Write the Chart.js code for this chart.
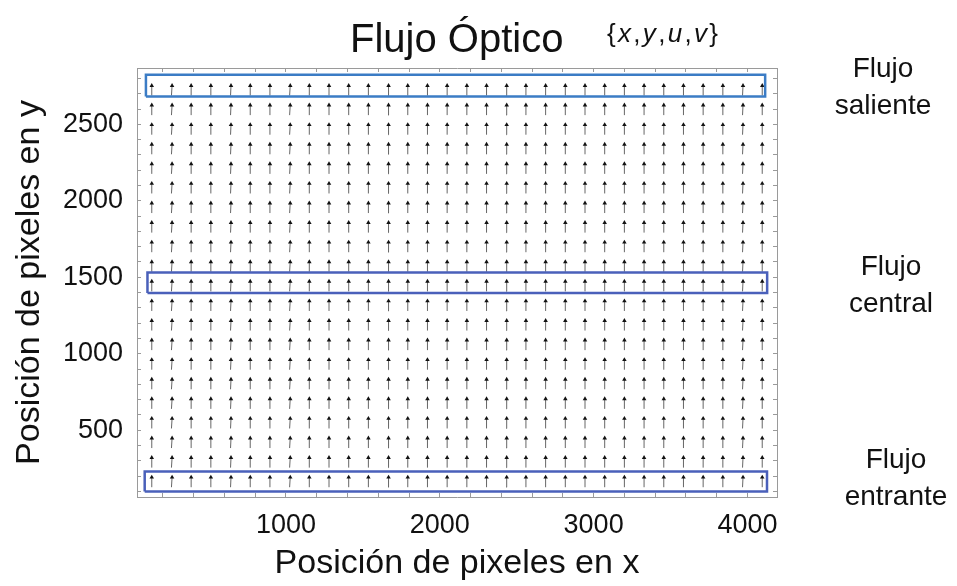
<!DOCTYPE html>
<html>
<head>
<meta charset="utf-8">
<script src="https://cdn.jsdelivr.net/npm/chart.js@4.4.1/dist/chart.umd.min.js"></script>
<style>
  body { margin: 0; background: #fff; }
  #wrap { position: relative; width: 957px; height: 586px; font-family: "Liberation Sans", Arial, sans-serif; color: #111; }
  #chart { position: absolute; left: 0; top: 0; }
  .lbl { position: absolute; white-space: nowrap; }
  .side { width: 160px; text-align: center; font-size: 28px; line-height: 37px; }
</style>
</head>
<body>
<div id="wrap">
  <canvas id="chart" width="957" height="586"></canvas>
  <div class="lbl" style="left:350px; top:14px; font-size:40px; line-height:48px;">Flujo Óptico</div>
  <div class="lbl" style="left:607px; top:18px; font-size:26px; line-height:30px; letter-spacing:2.3px;">{<i>x</i>,<i>y</i>,<i>u</i>,<i>v</i>}</div>
  <div class="lbl side" style="left:803px; top:49px;">Flujo<br>saliente</div>
  <div class="lbl side" style="left:811px; top:247px;">Flujo<br>central</div>
  <div class="lbl side" style="left:816px; top:440px;">Flujo<br>entrante</div>
</div>
<script>
// grid of the optical flow field (pixel positions)
const xs = [128, 256, 384, 512, 640, 768, 896, 1024, 1152, 1280, 1408, 1536, 1664, 1792, 1920, 2048,
            2176, 2304, 2432, 2560, 2688, 2816, 2944, 3072, 3200, 3328, 3456, 3584, 3712, 3840, 3968, 4096];
const ys = [128, 256, 384, 512, 640, 768, 896, 1024, 1152, 1280, 1408, 1536, 1664, 1792, 1920, 2048,
            2176, 2304, 2432, 2560, 2688];
// horizontal component per column, vertical component per row (scaled)
const uCols = [0, 4, 0, 0, 3, 0, 0, 4, 0, 0, 0, 0, 3, 0, 0, 0,
               0, 0, 3, 0, 0, 0, 0, 0, 0, 0, 0, 0, 0, 0, 3, 0];
const vRows = [65, 65, 65, 65, 65, 65, 65, 65, 65, 65, 65, 65, 65, 65, 65, 65,
               65, 65, 65, 65, 65];

// highlighted rows: [xmin, xmax, ymin, ymax]
const boxSaliente = [90, 4115, 2682, 2824];
const boxCentral = [100, 4128, 1397, 1531];
const boxEntrante = [82, 4127, 100, 231];

const xMin = 32, xMax = 4192;
const yMin = 64, yMax = 2868;
const xTicks = [];
for (let t = 200; t <= 4000; t += 200) xTicks.push(t);
const yTicks = [];
for (let t = 100; t <= 2800; t += 100) yTicks.push(t);

const shafts = [];
const heads = [];
ys.forEach((y, j) => {
    xs.forEach((x, i) => {
        shafts.push({x: x, y: y});
        shafts.push({x: x + uCols[i], y: y + vRows[j]});
        shafts.push({x: x, y: null});
        heads.push({x: x + uCols[i], y: y + vRows[j]});
    });
});

function rect(b) {
    return [
        {x: b[0], y: b[2]}, {x: b[1], y: b[2]}, {x: b[1], y: b[3]},
        {x: b[0], y: b[3]}, {x: b[0], y: b[2]}
    ];
}

Chart.defaults.font.family = "'Liberation Sans', Arial, sans-serif";
Chart.defaults.color = "#111";

const frameGrid = {
    drawOnChartArea: false,
    drawTicks: true,
    tickLength: -4,
    color: "#9a9a9a",
    lineWidth: 1
};
const frameBorder = { display: true, color: "#9a9a9a", width: 1 };

new Chart(document.getElementById('chart'), {
    type: "scatter",
    data: {
        datasets: [
            { data: rect(boxSaliente), showLine: true, borderColor: "#3b7cc5", borderWidth: 2.5, pointRadius: 0, fill: false },
            { data: rect(boxCentral), showLine: true, borderColor: "#4a60ba", borderWidth: 2.5, pointRadius: 0, fill: false },
            { data: rect(boxEntrante), showLine: true, borderColor: "#4a60ba", borderWidth: 2.5, pointRadius: 0, fill: false },
            { data: heads, showLine: false, pointStyle: "triangle", pointRadius: 2.6, backgroundColor: "#111", borderColor: "#111", borderWidth: 0 },
            { data: shafts, showLine: true, spanGaps: false, borderColor: "#555", borderWidth: 0.9, pointRadius: 0 }
        ]
    },
    options: {
        responsive: false,
        animation: false,
        devicePixelRatio: 1,
        layout: { padding: { left: 0, right: 180, top: 68, bottom: 0 } },
        plugins: {
            legend: { display: false },
            tooltip: { enabled: false }
        },
        scales: {
            x: {
                type: "linear", position: "bottom", min: xMin, max: xMax,
                grid: frameGrid, border: frameBorder,
                afterBuildTicks: s => { s.ticks = xTicks.map(v => ({value: v})); },
                afterFit: s => { s.height = 89; },
                ticks: {
                    autoSkip: false, maxRotation: 0, minRotation: 0, padding: 16,
                    font: { size: 27 }, color: "#111",
                    callback: v => (v % 1000 === 0 ? v : "")
                },
                title: {
                    display: true, text: "Posición de pixeles en x",
                    font: { size: 34 }, color: "#111", padding: { top: 0, bottom: 2 }
                }
            },
            y: {
                type: "linear", position: "left", min: yMin, max: yMax,
                grid: frameGrid, border: frameBorder,
                afterBuildTicks: s => { s.ticks = yTicks.map(v => ({value: v})); },
                afterFit: s => { s.width = 137; },
                ticks: {
                    autoSkip: false, padding: 18,
                    font: { size: 27 }, color: "#111",
                    callback: v => (v % 500 === 0 ? v : "")
                },
                title: {
                    display: true, text: "Posición de pixeles en y",
                    font: { size: 34 }, color: "#111", padding: { top: 9, bottom: 0 }
                }
            },
            x2: {
                type: "linear", position: "top", min: xMin, max: xMax,
                grid: frameGrid, border: frameBorder,
                afterBuildTicks: s => { s.ticks = xTicks.map(v => ({value: v})); },
                afterFit: s => { s.height = 0; },
                ticks: { display: false, autoSkip: false }
            },
            y2: {
                type: "linear", position: "right", min: yMin, max: yMax,
                grid: frameGrid, border: frameBorder,
                afterBuildTicks: s => { s.ticks = yTicks.map(v => ({value: v})); },
                afterFit: s => { s.width = 0; },
                ticks: { display: false, autoSkip: false }
            }
        }
    }
});
</script>
</body>
</html>
